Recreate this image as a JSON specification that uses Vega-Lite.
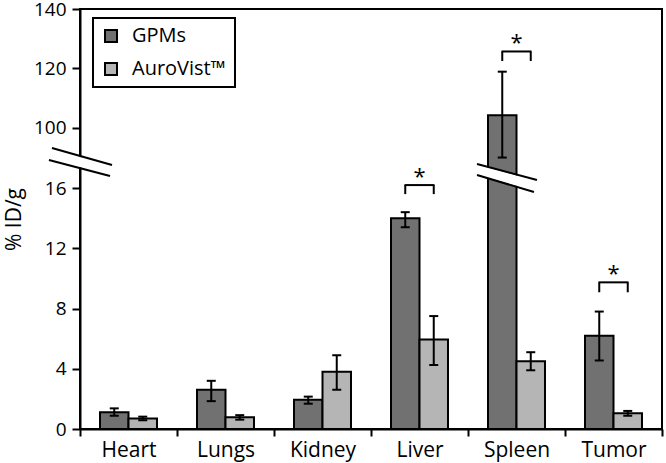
{
  "$schema": "https://vega.github.io/schema/vega-lite/v6.json",
  "width": 582,
  "height": 420,
  "autosize": {"type": "none"},
  "padding": {"left": 80, "top": 9, "right": 4, "bottom": 34},
  "datasets": {
    "bars": [
      {"organ": "Heart", "group": "GPMs", "value": 1.12, "lo": 0.88, "hi": 1.37},
      {"organ": "Heart", "group": "AuroVist™", "value": 0.70, "lo": 0.58, "hi": 0.82},
      {"organ": "Lungs", "group": "GPMs", "value": 2.6, "lo": 1.85, "hi": 3.2},
      {"organ": "Lungs", "group": "AuroVist™", "value": 0.78, "lo": 0.62, "hi": 0.92},
      {"organ": "Kidney", "group": "GPMs", "value": 1.95, "lo": 1.68, "hi": 2.15},
      {"organ": "Kidney", "group": "AuroVist™", "value": 3.8, "lo": 2.6, "hi": 4.9},
      {"organ": "Liver", "group": "GPMs", "value": 14.0, "lo": 13.4, "hi": 14.4},
      {"organ": "Liver", "group": "AuroVist™", "value": 5.95, "lo": 4.25, "hi": 7.5},
      {"organ": "Spleen", "group": "GPMs", "value": 104.2, "lo": 89.6, "hi": 118.9},
      {"organ": "Spleen", "group": "AuroVist™", "value": 4.5, "lo": 3.9, "hi": 5.1},
      {"organ": "Tumor", "group": "GPMs", "value": 6.2, "lo": 4.55, "hi": 7.8},
      {"organ": "Tumor", "group": "AuroVist™", "value": 1.05, "lo": 0.88, "hi": 1.2}
    ],
    "brackets": [
      {"organ": "Liver", "group": "GPMs", "top": 16.2, "bottom": 15.6},
      {"organ": "Liver", "group": "AuroVist™", "top": 16.2, "bottom": 15.6},
      {"organ": "Spleen", "group": "GPMs", "top": 125.7, "bottom": 122.5},
      {"organ": "Spleen", "group": "AuroVist™", "top": 125.7, "bottom": 122.5},
      {"organ": "Tumor", "group": "GPMs", "top": 9.74, "bottom": 9.08},
      {"organ": "Tumor", "group": "AuroVist™", "top": 9.74, "bottom": 9.08}
    ],
    "breaks": [
      {"kind": "band", "bx": -0.304, "by": 91.18, "bx2": 0.320, "by2": 17.17},
      {"kind": "line", "bx": -0.289, "by": 93.2, "bx2": 0.330, "by2": 22.0},
      {"kind": "line", "bx": -0.320, "by": 67.3, "bx2": 0.309, "by2": 16.80},
      {"kind": "band", "bx": 4.093, "by": 17.23, "bx2": 4.696, "by2": 16.14},
      {"kind": "line", "bx": 4.093, "by": 31.1, "bx2": 4.711, "by2": 16.54},
      {"kind": "line", "bx": 4.093, "by": 16.87, "bx2": 4.680, "by2": 15.74}
    ]
  },
  "config": {
    "font": "Open Sans",
    "view": {"stroke": "black", "strokeWidth": 2},
    "legend": {"strokeWidth": 2},
    "axis": {
      "domainColor": "black", "domainWidth": 2, "tickColor": "black", "tickWidth": 2,
      "labelColor": "black", "titleColor": "black", "labelFont": "Open Sans", "titleFont": "Open Sans", "grid": false
    },
    "axisY": {"tickSize": 8, "labelPadding": 6, "labelFontSize": 19, "titleFontSize": 21, "titleFontWeight": "normal", "titlePadding": 9},
    "axisX": {"tickSize": 7, "labelPadding": 3, "labelFontSize": 21, "labelAngle": 0, "tickBand": "extent"}
  },
  "layer": [
    {
      "layer": [
        {
          "data": {"name": "bars"},
          "mark": {"type": "bar", "stroke": "black", "strokeWidth": 2},
          "encoding": {
            "x": {"field": "organ", "type": "nominal", "sort": ["Heart", "Lungs", "Kidney", "Liver", "Spleen", "Tumor"], "scale": {"paddingInner": 0, "paddingOuter": 0}, "title": null},
            "xOffset": {"field": "group", "type": "nominal", "sort": ["GPMs", "AuroVist™"], "scale": {"paddingInner": 0, "paddingOuter": 0.702}},
            "y": {"field": "value", "type": "quantitative", "scale": {"domain": [0, 17.5, 90, 140], "range": [420, 156.5, 148.5, 0], "nice": false}, "axis": {"values": [0, 4, 8, 12, 16, 100, 120, 140]}, "title": "% ID/g"},
            "y2": {"datum": 0},
            "fill": {"field": "group", "type": "nominal", "scale": {"domain": ["GPMs", "AuroVist™"], "range": ["#717171", "#b5b5b5"]},
              "legend": {"orient": "none", "legendX": 13, "legendY": 9, "title": null, "strokeColor": "black", "padding": 8, "rowPadding": 13,
                "symbolType": "square", "symbolSize": 144, "symbolStrokeColor": "black", "symbolStrokeWidth": 2, "symbolOpacity": 1,
                "labelFontSize": 20, "labelFont": "Open Sans", "labelColor": "black", "labelOffset": 11}}
          }
        },
        {
          "data": {"name": "bars"},
          "mark": {"type": "rule", "strokeWidth": 2, "color": "black"},
          "encoding": {
            "x": {"field": "organ", "type": "nominal", "sort": ["Heart", "Lungs", "Kidney", "Liver", "Spleen", "Tumor"]},
            "xOffset": {"field": "group", "type": "nominal", "sort": ["GPMs", "AuroVist™"]},
            "y": {"field": "lo", "type": "quantitative"},
            "y2": {"field": "hi"}
          }
        },
        {
          "data": {"name": "bars"},
          "mark": {"type": "tick", "size": 9, "thickness": 2, "color": "black", "opacity": 1},
          "encoding": {
            "x": {"field": "organ", "type": "nominal", "sort": ["Heart", "Lungs", "Kidney", "Liver", "Spleen", "Tumor"]},
            "xOffset": {"field": "group", "type": "nominal", "sort": ["GPMs", "AuroVist™"]},
            "y": {"field": "hi", "type": "quantitative"}
          }
        },
        {
          "data": {"name": "bars"},
          "mark": {"type": "tick", "size": 9, "thickness": 2, "color": "black", "opacity": 1},
          "encoding": {
            "x": {"field": "organ", "type": "nominal", "sort": ["Heart", "Lungs", "Kidney", "Liver", "Spleen", "Tumor"]},
            "xOffset": {"field": "group", "type": "nominal", "sort": ["GPMs", "AuroVist™"]},
            "y": {"field": "lo", "type": "quantitative"}
          }
        },
        {
          "data": {"name": "brackets"},
          "mark": {"type": "rule", "strokeWidth": 2, "color": "black"},
          "encoding": {
            "x": {"field": "organ", "type": "nominal", "sort": ["Heart", "Lungs", "Kidney", "Liver", "Spleen", "Tumor"]},
            "xOffset": {"field": "group", "type": "nominal", "sort": ["GPMs", "AuroVist™"]},
            "y": {"field": "top", "type": "quantitative"},
            "y2": {"field": "bottom"}
          }
        },
        {
          "data": {"name": "brackets"},
          "transform": [{"filter": "datum.group == 'GPMs'"}],
          "mark": {"type": "tick", "size": 30, "thickness": 2, "color": "black", "opacity": 1},
          "encoding": {
            "x": {"field": "organ", "type": "nominal", "sort": ["Heart", "Lungs", "Kidney", "Liver", "Spleen", "Tumor"]},
            "y": {"field": "top", "type": "quantitative"}
          }
        },
        {
          "data": {"name": "brackets"},
          "transform": [{"filter": "datum.group == 'GPMs'"}],
          "mark": {"type": "text", "text": "*", "fontSize": 22, "font": "Open Sans", "color": "black", "baseline": "alphabetic", "dy": -1},
          "encoding": {
            "x": {"field": "organ", "type": "nominal", "sort": ["Heart", "Lungs", "Kidney", "Liver", "Spleen", "Tumor"]},
            "y": {"field": "top", "type": "quantitative"}
          }
        }
      ]
    },
    {
      "data": {"name": "breaks"},
      "transform": [{"filter": "datum.kind == 'band'"}],
      "mark": {"type": "rule", "strokeWidth": 10, "color": "white"},
      "encoding": {
        "x": {"field": "bx", "type": "quantitative", "scale": {"domain": [0, 6], "nice": false, "zero": false}, "axis": null},
        "x2": {"field": "bx2"},
        "y": {"field": "by", "type": "quantitative"},
        "y2": {"field": "by2"}
      }
    },
    {
      "data": {"name": "breaks"},
      "transform": [{"filter": "datum.kind == 'line'"}],
      "mark": {"type": "rule", "strokeWidth": 2, "color": "black"},
      "encoding": {
        "x": {"field": "bx", "type": "quantitative", "scale": {"domain": [0, 6], "nice": false, "zero": false}, "axis": null},
        "x2": {"field": "bx2"},
        "y": {"field": "by", "type": "quantitative"},
        "y2": {"field": "by2"}
      }
    }
  ],
  "resolve": {"scale": {"x": "independent"}}
}
